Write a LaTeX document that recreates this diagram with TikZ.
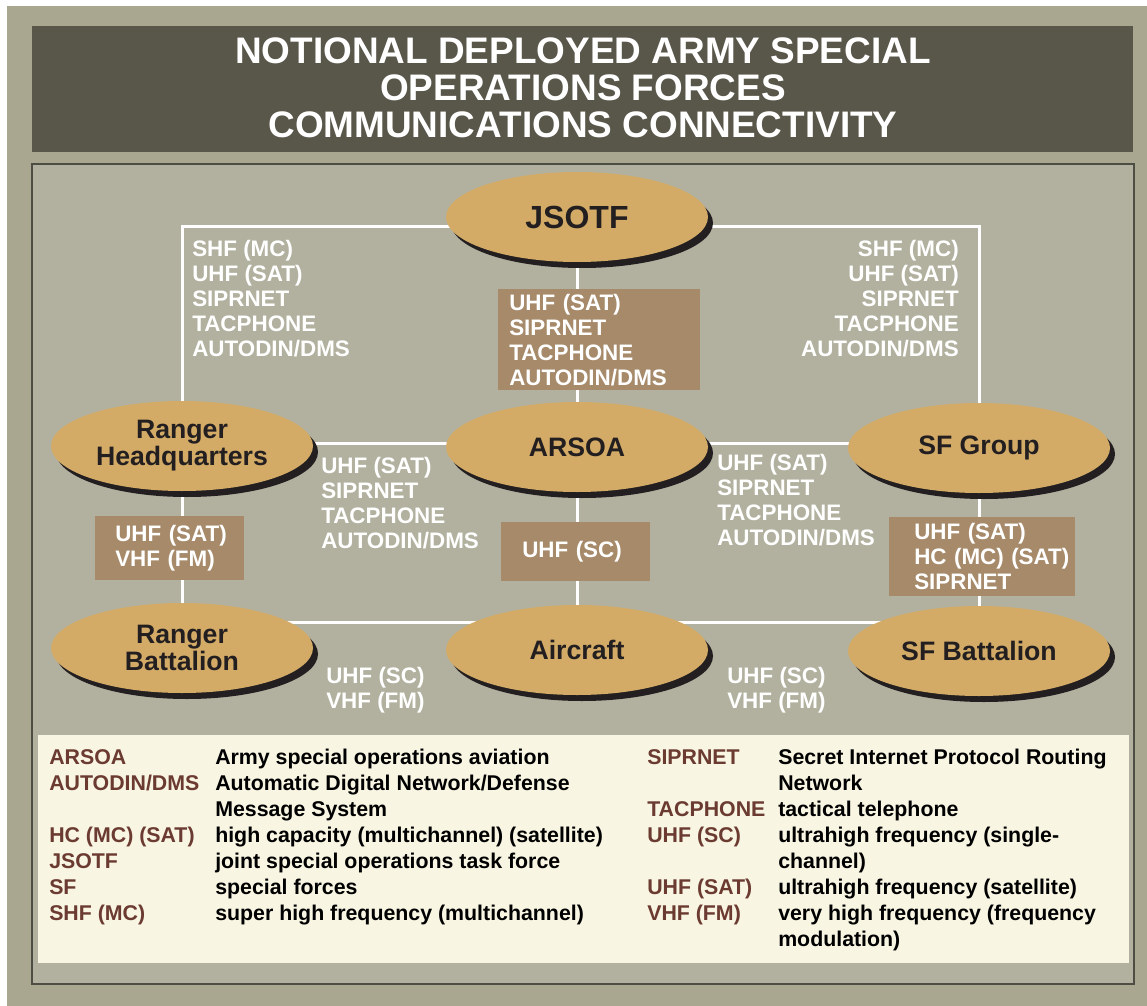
\documentclass[tikz,border=0pt]{standalone}
\usepackage{fontspec}
\setmainfont{Liberation Sans}
\usepackage{array}
\usetikzlibrary{shapes.geometric,shadows}
\definecolor{outerbg}{HTML}{A9A78F}
\definecolor{titlebg}{HTML}{59564A}
\definecolor{panelbg}{HTML}{B2B19F}
\definecolor{panelline}{HTML}{4D4D44}
\definecolor{ellfill}{HTML}{D3AB67}
\definecolor{boxfill}{HTML}{A68A6A}
\definecolor{legendbg}{HTML}{F8F5E2}
\definecolor{abbr}{HTML}{6B3A30}
\definecolor{darktext}{HTML}{231F20}
\pgfdeclarelayer{back}
\pgfdeclarelayer{lines}
\pgfsetlayers{back,lines,main}
\begin{document}
\begin{tikzpicture}[x=0.75pt,y=-0.75pt,
  unit/.style={ellipse, fill=ellfill, minimum width=196.5pt, minimum height=67.5pt,
    inner sep=0pt, text=darktext, align=center,
    font=\bfseries\fontsize{20}{20.25}\selectfont,
    drop shadow={shadow xshift=3.75pt, shadow yshift=-4.5pt, fill=darktext, opacity=1}},
  link/.style={draw=white, line width=2.25pt},
  lbl/.style={inner sep=0pt, text=white, align=left,
    font=\bfseries\fontsize{16.8}{18.75}\selectfont},
  chanbox/.style={fill=boxfill, text=white, align=left, anchor=north west,
    inner xsep=0pt, inner ysep=0pt,
    font=\bfseries\fontsize{16.8}{18.75}\selectfont},
  legend/.style={inner sep=0pt, anchor=base west,
    font=\bfseries\fontsize{16}{19.5}\selectfont}
]
\useasboundingbox (0,0) rectangle (1147,1006);

\begin{pgfonlayer}{back}
  \fill[outerbg] (7,6) rectangle (1147,1006);
  \fill[titlebg] (32,26) rectangle (1133,152);
  \draw[draw=panelline, fill=panelbg, line width=1.1pt] (32,164) rectangle (1134,984);
  \fill[legendbg] (38,735) rectangle (1129,963);
\end{pgfonlayer}

% title
\node[anchor=north, inner sep=0pt, text=white, align=center,
      font=\bfseries\fontsize{27.7}{28}\selectfont] (title) at (583,37)
  {NOTIONAL DEPLOYED ARMY SPECIAL\\OPERATIONS FORCES\\COMMUNICATIONS CONNECTIVITY};

% units
\node[unit, font=\bfseries\fontsize{24}{26}\selectfont] (jsotf) at (577,217) {JSOTF};
\node[unit] (rhq)   at (182,446) {Ranger\\Headquarters};
\node[unit] (arsoa) at (577,447) {ARSOA};
\node[unit] (sfg)   at (979,448) {SF Group};
\node[unit] (rbn)   at (182,648) {Ranger\\Battalion};
\node[unit] (air)   at (577,650) {Aircraft};
\node[unit] (sfbn)  at (979,651) {SF Battalion};

% bus levels
\coordinate (ytop) at (0,226);
\coordinate (ymid) at (0,443);
\coordinate (ybot) at (0,622);

\begin{pgfonlayer}{lines}
  \draw[link] (jsotf |- ytop) -| (rhq);
  \draw[link] (jsotf |- ytop) -| (sfg);
  \draw[link] (jsotf) -- (arsoa);
  \draw[link] (arsoa) -- (air);
  \draw[link] (rhq) -- (rbn);
  \draw[link] (sfg) -- (sfbn);
  \draw[link] (rhq |- ymid) -- (sfg |- ymid);
  \draw[link] (rbn |- ybot) -- (sfbn |- ybot);
\end{pgfonlayer}

% channel boxes
\node[chanbox, minimum width=151.5pt, minimum height=75.75pt, text width=135pt] (btop) at (498,289)
  {UHF~(SAT)\\SIPRNET\\TACPHONE\\AUTODIN/DMS};
\node[chanbox, minimum width=111.75pt, minimum height=48pt, text width=81.75pt] (bleft) at (95,516)
  {UHF~(SAT)\\VHF~(FM)};
\node[chanbox, minimum width=111.75pt, minimum height=44.25pt, text width=80.25pt] (bmid) at (501,522)
  {UHF~(SC)};
\node[chanbox, minimum width=139.5pt, minimum height=59.25pt, text width=102pt] (bright) at (889,517)
  {UHF~(SAT)\\HC~(MC)~(SAT)\\SIPRNET};

% free labels
\node[lbl, anchor=north west] (ltop) at (192,240)
  {SHF (MC)\\UHF (SAT)\\SIPRNET\\TACPHONE\\AUTODIN/DMS};
\node[lbl, anchor=north east, align=right] (rtop) at (959,240)
  {SHF (MC)\\UHF (SAT)\\SIPRNET\\TACPHONE\\AUTODIN/DMS};
\node[lbl, anchor=north west] (lmid) at (321,457)
  {UHF (SAT)\\SIPRNET\\TACPHONE\\AUTODIN/DMS};
\node[lbl, anchor=north west] (rmid) at (717,454)
  {UHF (SAT)\\SIPRNET\\TACPHONE\\AUTODIN/DMS};
\node[lbl, anchor=north west] (lbot) at (326,667)
  {UHF (SC)\\VHF (FM)};
\node[lbl, anchor=north west] (rbot) at (727,667)
  {UHF (SC)\\VHF (FM)};

% legend
\node[legend] (legl) at (49,764) {%
  \begin{tabular}[t]{@{}>{\color{abbr}}w{l}{124.5pt}@{}>{\color{black}}l@{}}
  ARSOA & Army special operations aviation\\
  AUTODIN/DMS & Automatic Digital Network/Defense\\
   & Message System\\
  HC (MC) (SAT) & high capacity (multichannel) (satellite)\\
  JSOTF & joint special operations task force\\
  SF & special forces\\
  SHF (MC) & super high frequency (multichannel)
  \end{tabular}};
\node[legend] (legr) at (647,764) {%
  \begin{tabular}[t]{@{}>{\color{abbr}}w{l}{98.25pt}@{}>{\color{black}}l@{}}
  SIPRNET & Secret Internet Protocol Routing\\
   & Network\\
  TACPHONE & tactical telephone\\
  UHF (SC) & ultrahigh frequency (single-\\
   & channel)\\
  UHF (SAT) & ultrahigh frequency (satellite)\\
  VHF (FM) & very high frequency (frequency\\
   & modulation)
  \end{tabular}};
\end{tikzpicture}
\end{document}
